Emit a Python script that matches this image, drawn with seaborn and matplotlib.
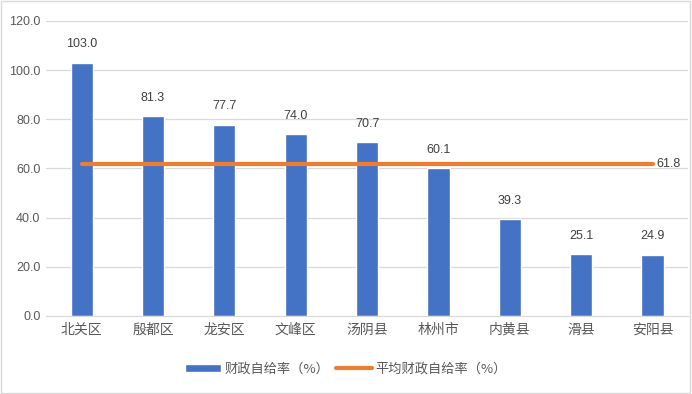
import pandas as pd
import matplotlib.pyplot as plt
import seaborn as sns
from matplotlib.patches import Patch, Rectangle
from matplotlib.lines import Line2D

# data
regions = ['北关区', '殷都区', '龙安区', '文峰区', '汤阴县', '林州市', '内黄县', '滑县', '安阳县']
ratio = [103.0, 81.3, 77.7, 74.0, 70.7, 60.1, 39.3, 25.1, 24.9]
avg_ratio = 61.8
yticks = [0, 20, 40, 60, 80, 100, 120]

df = pd.DataFrame({'region': regions, 'ratio': ratio})
df['avg'] = avg_ratio

sns.set_style('white')
plt.rcParams['font.family'] = ['Noto Sans CJK SC', 'DejaVu Sans']

fig = plt.figure(figsize=(6.92, 3.94), dpi=100)
ax = fig.add_axes([0.0665, 0.198, 0.928, 0.749])

bar_color = '#4472C4'
line_color = '#ED7D31'
text_color = '#595959'
num_font = ['Liberation Sans', 'DejaVu Sans']

sns.barplot(x='region', y='ratio', data=df, color=bar_color, width=0.31,
            saturation=1, ax=ax, zorder=2)
sns.lineplot(x='region', y='avg', data=df, color=line_color, linewidth=3,
             ax=ax, zorder=3, sort=False)

# data labels
for i, v in enumerate(ratio):
    ax.text(i, v + 7.5, f'{v:.1f}', ha='center', va='center', fontsize=9,
            color='#404040', family=num_font)
ax.text(len(regions) - 1 + 0.06, avg_ratio, f'{avg_ratio:.1f}', ha='left', va='center',
        fontsize=9, color='#404040', family=num_font)

ax.set_xlim(-0.5, len(regions) - 0.5)
ax.set_ylim(0, 120)
ax.set_yticks(yticks)
ax.set_yticklabels([f'{t:.1f}' for t in yticks], fontsize=9, color=text_color,
                   family=num_font)
ax.tick_params(axis='x', labelsize=10, colors=text_color, length=0, pad=5)
ax.tick_params(axis='y', length=0, pad=4)
ax.set_xlabel('')
ax.set_ylabel('')
ax.yaxis.grid(True, color='#D9D9D9', linewidth=0.9, zorder=0)
ax.set_axisbelow(True)
for side in ['top', 'right', 'left']:
    ax.spines[side].set_visible(False)
ax.spines['bottom'].set_color('#D9D9D9')

handles = [Patch(facecolor=bar_color, label='财政自给率（%）'),
           Line2D([0], [0], color=line_color, linewidth=3, label='平均财政自给率（%）')]
fig.legend(handles=handles, loc='center', bbox_to_anchor=(0.5, 0.063), ncol=2,
           frameon=False, fontsize=9.5, handlelength=2.7, handleheight=0.6,
           columnspacing=0.5, handletextpad=0.3, labelcolor=text_color)

# outer border
fig.patches.append(Rectangle((0.002, 0.003), 0.995, 0.994, transform=fig.transFigure,
                             fill=False, edgecolor='#D9D9D9', linewidth=1))

fig.savefig('out.png', dpi=100)
